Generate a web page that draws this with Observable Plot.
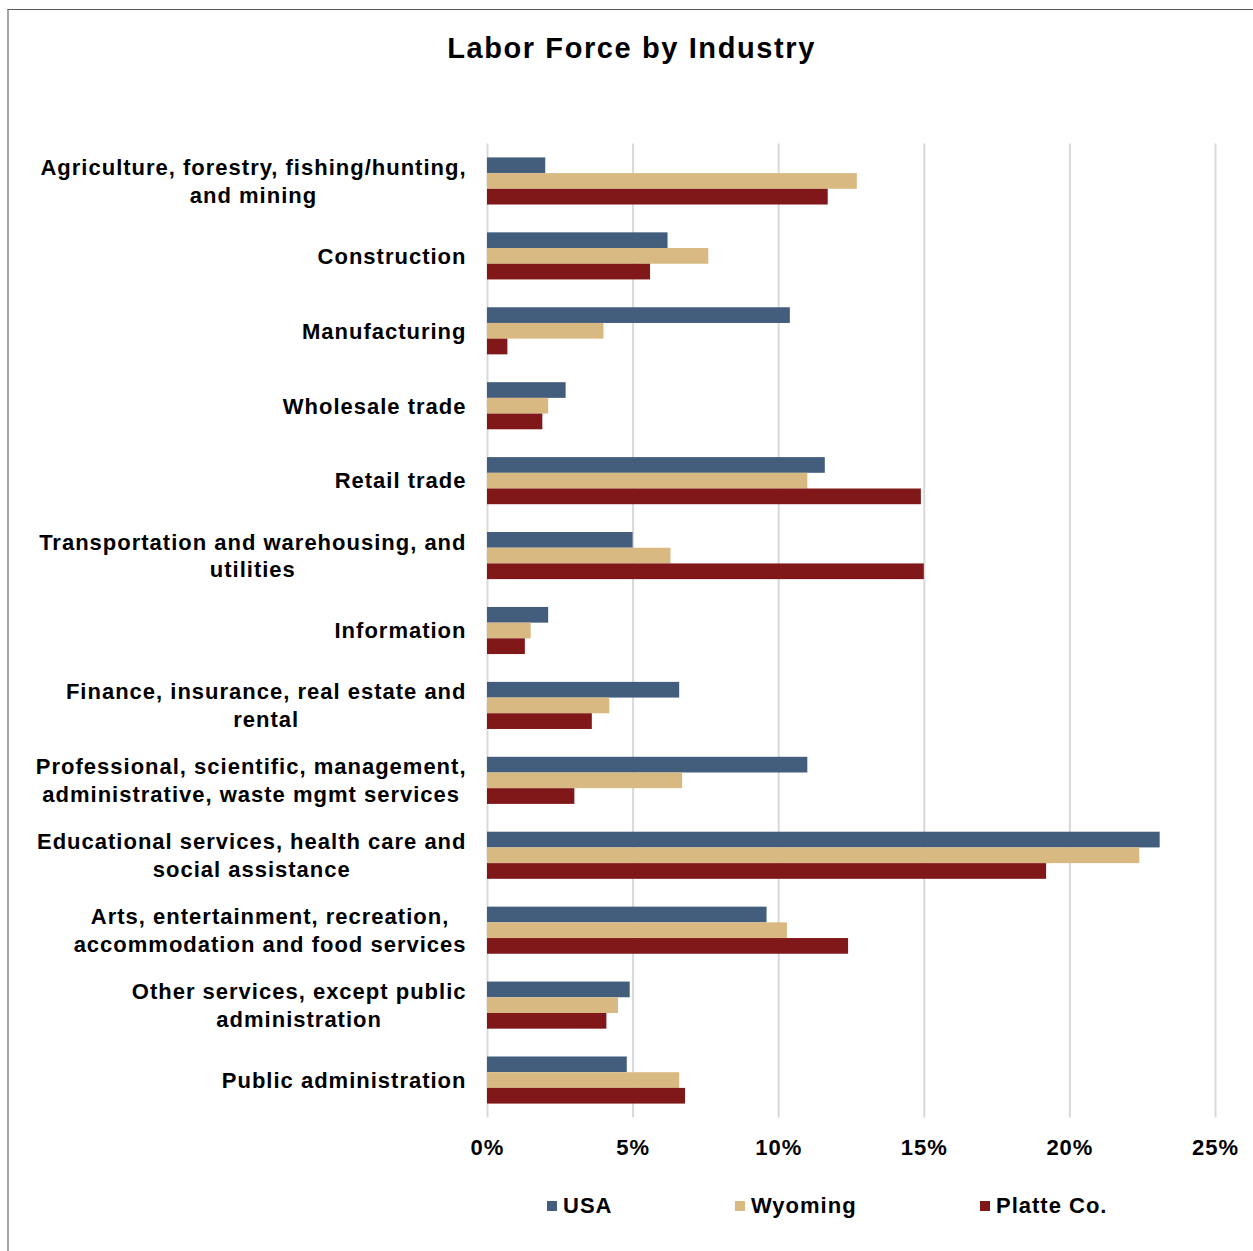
<!DOCTYPE html>
<html>
<head>
<meta charset="utf-8">
<script src="https://cdn.jsdelivr.net/npm/d3@7"></script>
<script src="https://cdn.jsdelivr.net/npm/@observablehq/plot@0.6"></script>
<style>
  html, body { margin: 0; padding: 0; background: #fff; }
  body { font-family: "Liberation Sans", Arial, sans-serif; color: #000; }
  #wrap { position: relative; width: 1253px; height: 1251px; overflow: hidden; }
  #frame { position: absolute; left: 7px; top: 9px; width: 1300px; height: 1300px;
           border-left: 2px solid #a6a6a6; border-top: 1.5px solid #595959; box-sizing: border-box; }
  #title { position: relative; height: 100px; box-sizing: border-box; padding-top: 34px;
           text-align: center; font-size: 29px; line-height: 29px; font-weight: bold; letter-spacing: 1.6px;
           padding-left: 10px; }
  #legend { position: relative; height: 60px; margin-top: 34px; font-size: 22px; font-weight: bold; letter-spacing: 1px; }
  .item { position: absolute; top: 0; display: flex; align-items: center; height: 24px; }
  .sw { width: 10px; height: 10px; margin-right: 6px; }
</style>
</head>
<body>
<div id="wrap">
  <div id="frame"></div>
  <div id="title">Labor Force by Industry</div>
  <div id="chart"></div>
  <div id="legend"></div>
</div>
<script>
const categories = [
  "Agriculture, forestry, fishing/hunting,\nand mining",
  "Construction",
  "Manufacturing",
  "Wholesale trade",
  "Retail trade",
  "Transportation and warehousing, and\nutilities",
  "Information",
  "Finance, insurance, real estate and\nrental",
  "Professional, scientific, management,\nadministrative, waste mgmt services",
  "Educational services, health care and\nsocial assistance",
  "Arts, entertainment, recreation,\naccommodation and food services",
  "Other services, except public\nadministration",
  "Public administration"
];
const seriesNames = ["USA", "Wyoming", "Platte Co."];
const usa     = [2.0, 6.2, 10.4, 2.7, 11.6, 5.0, 2.1, 6.6, 11.0, 23.1, 9.6, 4.9, 4.8];
const wyoming = [12.7, 7.6, 4.0, 2.1, 11.0, 6.3, 1.5, 4.2, 6.7, 22.4, 10.3, 4.5, 6.6];
const platte  = [11.7, 5.6, 0.7, 1.9, 14.9, 15.0, 1.3, 3.6, 3.0, 19.2, 12.4, 4.1, 6.8];
const xTicks = [0, 5, 10, 15, 20, 25];
const colors = ["#435D7C", "#D9B982", "#80181A"];

const seriesValues = [usa, wyoming, platte];
const rows = [];
seriesNames.forEach((s, i) => categories.forEach((c, j) => rows.push({series: s, si: i, category: c, value: seriesValues[i][j]})));

const W = 1253, H = 1060, mTop = 43.5, mBottom = 42.5, mLeft = 487, mRight = 38;
const band = (H - mTop - mBottom) / categories.length;
const barH = 15.7;
const off = (band - 3 * barH) / 2;

const barMarks = seriesNames.map((s, i) =>
  Plot.barX(rows.filter(d => d.si === i), {
    x: "value", y: "category", fill: colors[i],
    insetTop: off + i * barH, insetBottom: band - off - (i + 1) * barH
  })
);

const chart = Plot.plot({
  width: W, height: H,
  marginTop: mTop, marginBottom: mBottom, marginLeft: mLeft, marginRight: mRight,
  style: {fontFamily: '"Liberation Sans", Arial, sans-serif', fontSize: "22px", fontWeight: "bold", color: "#000", background: "transparent", letterSpacing: "1px"},
  x: {domain: [0, 25], ticks: xTicks, tickFormat: d => d + "%", tickSize: 0, tickPadding: 21, label: null},
  y: {domain: categories, padding: 0, round: false, axis: null},
  marks: [
    Plot.ruleX(xTicks, {stroke: "#d9d9d9", strokeWidth: 2}),
    ...barMarks,
    Plot.text(categories, {y: d => d, text: d => d, frameAnchor: "left", textAnchor: "end", dx: -21, dy: -1.5, lineHeight: 1.25, fill: "#000"})
  ]
});
document.getElementById("chart").appendChild(chart);

// center wrapped lines within a right-aligned block
chart.querySelectorAll('g[aria-label="text"] text').forEach(t => {
  const spans = t.querySelectorAll("tspan");
  if (spans.length > 1) {
    let w = 0;
    spans.forEach(s => { w = Math.max(w, s.getComputedTextLength()); });
    t.setAttribute("text-anchor", "middle");
    spans.forEach(s => s.setAttribute("x", -w / 2));
  }
});

const legend = document.getElementById("legend");
const lx = [547, 735, 980];
seriesNames.forEach((s, i) => {
  const it = document.createElement("div");
  it.className = "item";
  it.style.left = lx[i] + "px";
  const sw = document.createElement("div");
  sw.className = "sw"; sw.style.background = colors[i];
  const tx = document.createElement("span");
  tx.textContent = s;
  it.appendChild(sw); it.appendChild(tx);
  legend.appendChild(it);
});
</script>
</body>
</html>
